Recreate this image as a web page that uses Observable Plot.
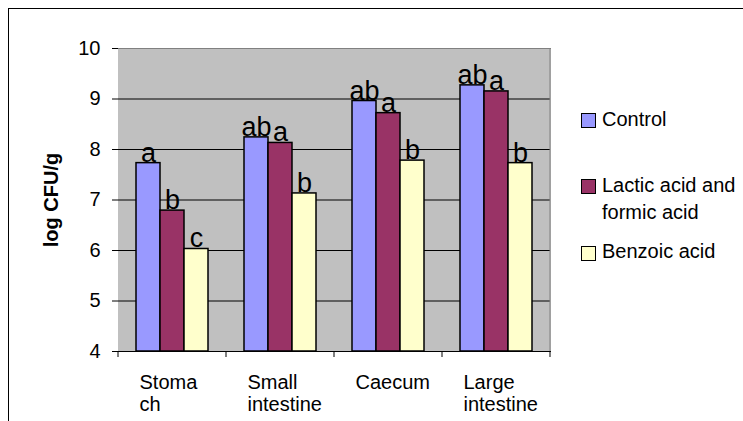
<!DOCTYPE html>
<html><head><meta charset="utf-8">
<script src="https://cdn.jsdelivr.net/npm/d3@7"></script>
<script src="https://cdn.jsdelivr.net/npm/@observablehq/plot@0.6"></script>
<style>
html,body{margin:0;padding:0;background:#fff;overflow:hidden;}
#wrap{position:relative;width:743px;height:421px;overflow:hidden;font-family:"Liberation Sans",Arial,sans-serif;}
#border{position:absolute;left:8px;top:8px;width:900px;height:600px;border-left:1px solid #000;border-top:1px solid #000;}
#chart{position:absolute;left:0;top:0;}
.sw{position:absolute;left:581px;width:13px;height:13px;border:1px solid #000;}
.lt{position:absolute;left:602px;font-size:20px;line-height:27px;color:#000;white-space:pre;}
</style></head>
<body><div id="wrap"><div id="border"></div><div id="chart"></div><div id="legend"></div></div>
<script>
const categories = ["Stomach", "Small intestine", "Caecum", "Large intestine"];
const categoryLabels = ["Stoma\nch", "Small\nintestine", "Caecum", "Large\nintestine"];
const series = ["Control", "Lactic acid and formic acid", "Benzoic acid"];
const seriesLegend = ["Control", "Lactic acid and\nformic acid", "Benzoic acid"];
const control = [7.73, 8.24, 8.96, 9.27];
const lacticFormic = [6.79, 8.13, 8.72, 9.15];
const benzoic = [6.03, 7.13, 7.78, 7.73];
const controlLetters = ["a", "ab", "ab", "ab"];
const lacticLetters = ["b", "a", "a", "a"];
const benzoicLetters = ["c", "b", "b", "b"];
const colors = ["#9999FF", "#993366", "#FFFFCC"];
const yTicks = [4, 5, 6, 7, 8, 9, 10];
const yLabel = "log CFU/g";

const values = [control, lacticFormic, benzoic];
const letters = [controlLetters, lacticLetters, benzoicLetters];
const rows = [];
categories.forEach((c, i) => series.forEach((s, j) => rows.push({category: c, series: s, value: values[j][i], letter: letters[j][i]})));

const chart = Plot.plot({
  width: 743, height: 421,
  marginLeft: 117, marginRight: 192, marginTop: 48, marginBottom: 70,
  style: {fontFamily: "Liberation Sans, Arial, sans-serif", fontSize: "20px", color: "#000", background: "transparent", overflow: "visible"},
  fx: {domain: categories, paddingInner: 0, paddingOuter: 0, axis: null},
  x: {domain: series, paddingInner: 0, paddingOuter: 0.75, axis: null},
  y: {domain: [yTicks[0], yTicks[yTicks.length - 1]]},
  color: {domain: series, range: colors},
  marks: [
    Plot.frame({fill: "#c0c0c0", stroke: null, insetLeft: -0.5, insetRight: -0.5}),
    Plot.gridY({ticks: yTicks.slice(1, -1), stroke: "#000", strokeOpacity: 1, strokeWidth: 1}),
    Plot.frame({anchor: "top", stroke: "#808080"}),
    Plot.barY(rows, {fx: "category", x: "series", y1: yTicks[0], y2: "value", fill: "series", stroke: "#000", strokeWidth: 1.5}),
    Plot.text(rows, {fx: "category", x: "series", y: "value", text: "letter", fontSize: 27, lineAnchor: "bottom", dy: -1.5, fill: "#000"}),
    Plot.frame({anchor: "bottom", stroke: "#000"}),
    Plot.axisY({ticks: yTicks, tickFormat: d => String(d), tickSize: 6, tickPadding: 12, line: true, label: null, fontSize: 20}),
    Plot.axisY({ticks: [], tickSize: 0, label: yLabel, labelAnchor: "center", labelArrow: "none", labelOffset: 75, fontWeight: "bold", fontSize: 20}),
    Plot.axisFx({anchor: "bottom", tickSize: 0, tickPadding: 22, textAnchor: "start", dx: -33, fontSize: 20, lineHeight: 1.1, label: null,
      tickFormat: c => categoryLabels[categories.indexOf(c)]})
  ]
});
document.getElementById("chart").appendChild(chart);

// category boundary ticks and right border of the plot area, from Plot's own scales
let fxS = chart.scale("fx");
const yS = chart.scale("y");
let bandStart, bandW;
if (fxS && fxS.apply) { bandStart = c => fxS.apply(c); bandW = fxS.bandwidth; }
else { const b = d3.scaleBand().domain(categories).range([117, 743 - 192]); bandStart = c => b(c); bandW = b.bandwidth(); }
const yBase = yS.apply(yTicks[0]), yTop = yS.apply(yTicks[yTicks.length - 1]);
const edges = categories.map(bandStart).concat([bandStart(categories[categories.length - 1]) + bandW]);
const g = d3.select(chart).append("g");
g.append("line").attr("x1", edges[edges.length - 1]).attr("x2", edges[edges.length - 1]).attr("y1", yTop).attr("y2", yBase).attr("stroke", "#808080");
g.selectAll("line.bt").data(edges).join("line").attr("class", "bt")
  .attr("x1", d => d).attr("x2", d => d).attr("y1", yBase).attr("y2", yBase + 6).attr("stroke", "#000");

// legend
const swTops = [113, 179, 246], txtTops = [105.5, 172.3, 237.5];
const leg = d3.select("#legend");
series.forEach((s, i) => {
  leg.append("div").attr("class", "sw").style("top", swTops[i] + "px").style("background", colors[i]);
  leg.append("div").attr("class", "lt").style("top", txtTops[i] + "px").text(seriesLegend[i]);
});
</script>
</body></html>
